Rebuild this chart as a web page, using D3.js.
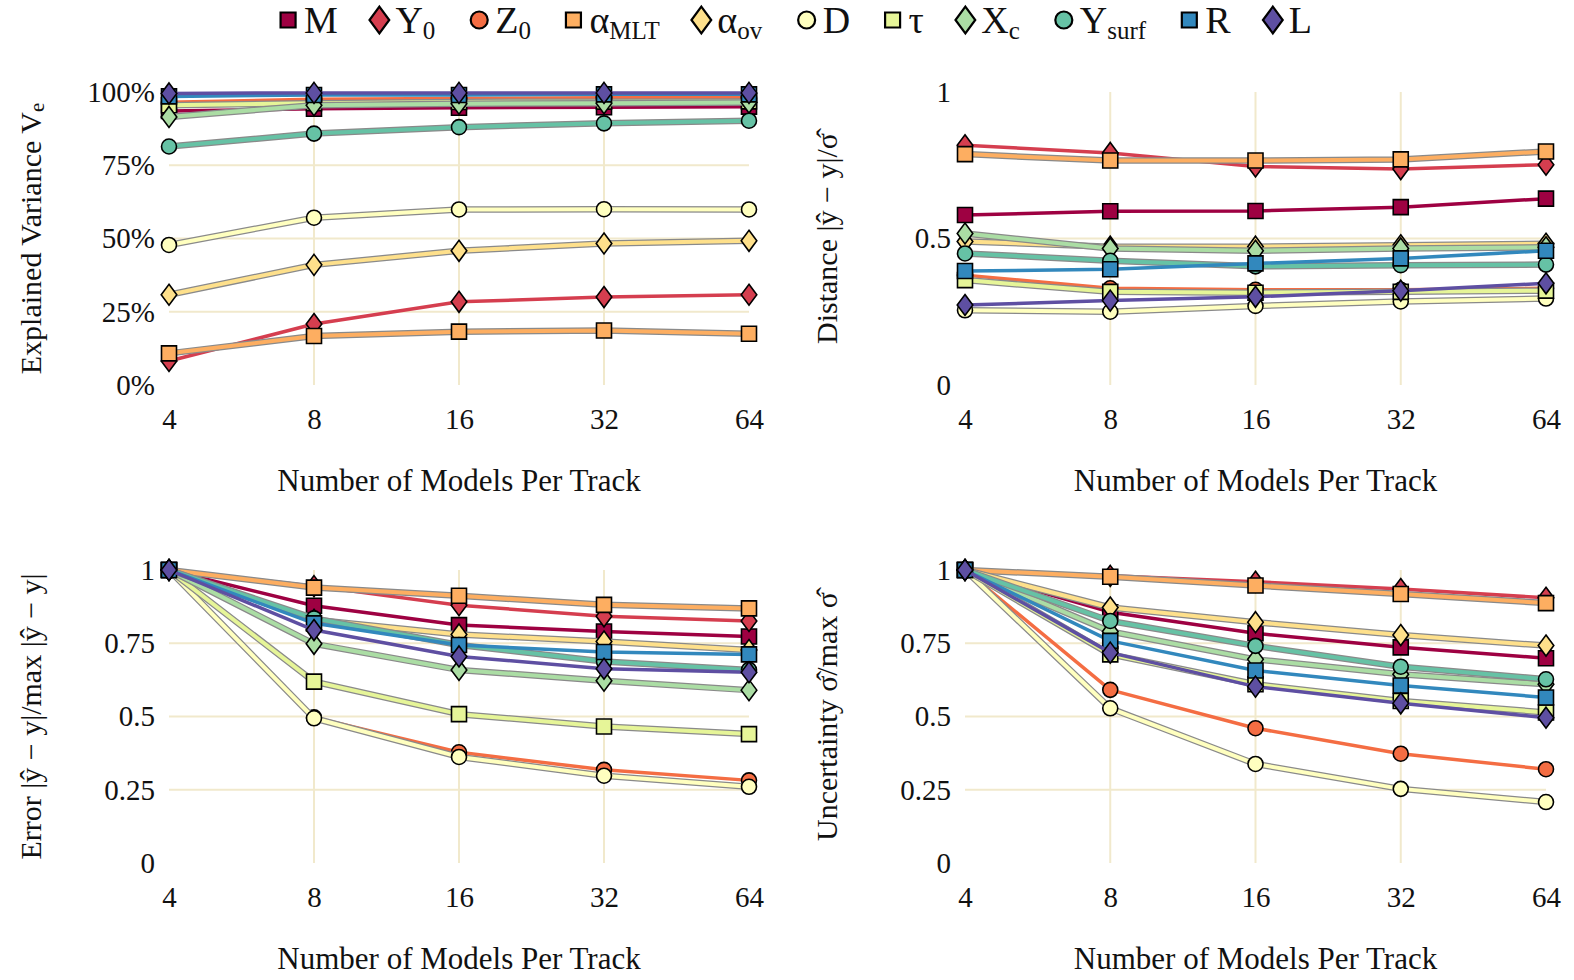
<!DOCTYPE html>
<html><head><meta charset="utf-8">
<script src="https://cdn.jsdelivr.net/npm/d3@7"></script>
<style>
body{margin:0;background:#fff}
text{font-family:"Liberation Serif","DejaVu Serif",serif;fill:#111}
</style>
</head><body><svg id="c" width="1574" height="980"></svg>
<script>
// ---------- data ----------
const modelsPerTrack = [4, 8, 16, 32, 64];
const seriesKeys = ["M","Y0","Z0","aMLT","aov","D","tau","Xc","Ysurf","R","L"];
const seriesColors = ["#9e0142","#d53e4f","#f46d43","#fdae61","#fee08b","#ffffbf","#e6f598","#abdda4","#66c2a5","#3288bd","#5e4fa2"];
const seriesMarkers = ["square","diamond","circle","square","diamond","circle","square","diamond","circle","square","diamond"];
const seriesOutlined = [false,false,false,true,true,true,true,true,true,false,false];
const legendMain = ["M","Y","Z","α","α","D","τ","X","Y","R","L"];
const legendSub  = ["","0","0","MLT","ov","","","c","surf","",""];

// order: M, Y0, Z0, aMLT, aov, D, tau, Xc, Ysurf, R, L
const explainedVariance = [
  [0.935, 0.943, 0.946, 0.948, 0.950],
  [0.082, 0.208, 0.284, 0.300, 0.308],
  [0.965, 0.975, 0.978, 0.980, 0.980],
  [0.108, 0.167, 0.182, 0.186, 0.175],
  [0.308, 0.410, 0.458, 0.483, 0.492],
  [0.478, 0.571, 0.599, 0.600, 0.599],
  [0.955, 0.962, 0.966, 0.967, 0.968],
  [0.915, 0.955, 0.960, 0.962, 0.964],
  [0.814, 0.858, 0.880, 0.893, 0.902],
  [0.985, 0.990, 0.990, 0.992, 0.992],
  [0.995, 0.997, 0.997, 0.997, 0.997]
];
const distance = [
  [0.580, 0.593, 0.594, 0.607, 0.636],
  [0.818, 0.792, 0.746, 0.737, 0.752],
  [0.375, 0.330, 0.325, 0.325, 0.330],
  [0.788, 0.766, 0.766, 0.770, 0.797],
  [0.490, 0.472, 0.472, 0.477, 0.482],
  [0.255, 0.250, 0.270, 0.285, 0.295],
  [0.358, 0.318, 0.315, 0.318, 0.322],
  [0.517, 0.466, 0.458, 0.466, 0.470],
  [0.449, 0.424, 0.405, 0.409, 0.411],
  [0.389, 0.395, 0.415, 0.432, 0.458],
  [0.273, 0.288, 0.301, 0.322, 0.347]
];
const errorRatio = [
  [1, 0.878, 0.812, 0.790, 0.773],
  [1, 0.945, 0.880, 0.842, 0.826],
  [1, 0.497, 0.378, 0.318, 0.282],
  [1, 0.940, 0.912, 0.881, 0.869],
  [1, 0.830, 0.780, 0.756, 0.727],
  [1, 0.494, 0.362, 0.298, 0.260],
  [1, 0.619, 0.508, 0.466, 0.440],
  [1, 0.748, 0.659, 0.622, 0.590],
  [1, 0.835, 0.744, 0.688, 0.659],
  [1, 0.818, 0.744, 0.720, 0.712],
  [1, 0.795, 0.705, 0.663, 0.651]
];
const uncertaintyRatio = [
  [1, 0.856, 0.784, 0.736, 0.699],
  [1, 0.980, 0.960, 0.935, 0.905],
  [1, 0.591, 0.460, 0.373, 0.320],
  [1, 0.977, 0.947, 0.918, 0.887],
  [1, 0.872, 0.822, 0.778, 0.742],
  [1, 0.528, 0.338, 0.253, 0.208],
  [1, 0.712, 0.610, 0.553, 0.514],
  [1, 0.790, 0.695, 0.644, 0.610],
  [1, 0.826, 0.741, 0.670, 0.627],
  [1, 0.758, 0.657, 0.606, 0.565],
  [1, 0.718, 0.602, 0.545, 0.496]
];
const percentTicks = [0, 0.25, 0.5, 0.75, 1];
const halfTicks = [0, 0.5, 1];
const quarterTicks = [0, 0.25, 0.5, 0.75, 1];
const xTitle = "Number of Models Per Track";

// ---------- layout ----------
const svg = d3.select("#c");
const gridColor = "#f1e9cc";
const fmtQuarter = v => v === 0 ? "0" : v === 1 ? "1" : String(v);
const panels = [
  {data: explainedVariance, x0:169, x1:749, yTop:92, yBot:385, ticks:percentTicks, fmt:d3.format(".0%"),
   title:[["Explained Variance V",""],["e","sub"]], tx:30},
  {data: distance, x0:965, x1:1546, yTop:92, yBot:385, ticks:halfTicks, fmt:fmtQuarter,
   title:[["Distance |ŷ − y|/σ̂",""]], tx:826},
  {data: errorRatio, x0:169, x1:749, yTop:570, yBot:863, ticks:quarterTicks, fmt:fmtQuarter,
   title:[["Error |ŷ − y|/max |ŷ − y|",""]], tx:30},
  {data: uncertaintyRatio, x0:965, x1:1546, yTop:570, yBot:863, ticks:quarterTicks, fmt:fmtQuarter,
   title:[["Uncertainty σ̂/max σ̂",""]], tx:826}
];

function markerPath(type, s) {
  const p = d3.path();
  if (type === "square") { const h = s/2; p.rect(-h,-h,s,s); }
  else if (type === "circle") { p.arc(0,0,s/2,0,2*Math.PI); }
  else { const w = s*0.52, h = s*0.7; p.moveTo(0,-h); p.lineTo(w,0); p.lineTo(0,h); p.lineTo(-w,0); p.closePath(); }
  return p.toString();
}

panels.forEach(P => {
  const x = d3.scaleLog().base(2).domain([4,64]).range([P.x0, P.x1]);
  const y = d3.scaleLinear().domain([0,1]).range([P.yBot, P.yTop]);
  const g = svg.append("g");

  // grid (interior only)
  g.selectAll(".vg").data(modelsPerTrack.slice(1,-1)).join("line")
    .attr("x1", d => x(d)).attr("x2", d => x(d)).attr("y1", P.yTop).attr("y2", P.yBot)
    .attr("stroke", gridColor).attr("stroke-width", 2);
  g.selectAll(".hg").data(P.ticks.slice(1,-1)).join("line")
    .attr("x1", P.x0).attr("x2", P.x1).attr("y1", d => y(d)).attr("y2", d => y(d))
    .attr("stroke", gridColor).attr("stroke-width", 2);

  // y axis labels via d3 axis
  const ya = d3.axisLeft(y).tickValues(P.ticks).tickFormat(P.fmt).tickSize(0).tickPadding(14);
  const yg = g.append("g").attr("transform", `translate(${P.x0},0)`).call(ya);
  yg.select(".domain").remove();
  yg.attr("font-family", null);
  yg.selectAll("text").attr("font-size", 29).attr("fill", "#111");

  const xa = d3.axisBottom(x).tickValues(modelsPerTrack).tickFormat(d3.format("d")).tickSize(0).tickPadding(23);
  const xg = g.append("g").attr("transform", `translate(0,${P.yBot})`).call(xa);
  xg.select(".domain").remove();
  xg.attr("font-family", null);
  xg.selectAll("text").attr("font-size", 29).attr("fill", "#111");

  // x title
  g.append("text").attr("x", (P.x0+P.x1)/2).attr("y", P.yBot + 95)
    .attr("text-anchor", "middle").attr("dominant-baseline", "central")
    .attr("font-size", 31).text(xTitle);

  // y title
  const yt = g.append("text").attr("transform", `translate(${P.tx},${(P.yTop+P.yBot)/2}) rotate(-90)`)
    .attr("text-anchor", "middle").attr("dominant-baseline", "central").attr("font-size", 30);
  P.title.forEach(([t, kind]) => {
    const ts = yt.append("tspan").text(t);
    if (kind === "sub") ts.attr("font-size", 21).attr("dy", "0.35em");
  });

  // series
  const line = d3.line().x((d,i) => x(modelsPerTrack[i])).y(d => y(d));
  P.data.forEach((vals, si) => {
    const sg = g.append("g");
    if (seriesOutlined[si]) {
      sg.append("path").attr("d", line(vals)).attr("fill", "none")
        .attr("stroke", "#8a8a8a").attr("stroke-width", 6.5).attr("stroke-linejoin", "round");
    }
    sg.append("path").attr("d", line(vals)).attr("fill", "none")
      .attr("stroke", seriesColors[si]).attr("stroke-width", seriesOutlined[si] ? 4 : 3.5)
      .attr("stroke-linejoin", "round");
    sg.selectAll("path.m").data(vals).join("path").attr("class", "m")
      .attr("transform", (d,i) => `translate(${x(modelsPerTrack[i])},${y(d)})`)
      .attr("d", markerPath(seriesMarkers[si], 15))
      .attr("fill", seriesColors[si]).attr("stroke", "#000").attr("stroke-width", 1.6);
  });
});

// ---------- legend ----------
const lg = svg.append("g");
const items = [];
const legendMarkerSize = {square: 15, circle: 17, diamond: 19};
seriesKeys.forEach((k, i) => {
  const it = lg.append("g");
  const ms = legendMarkerSize[seriesMarkers[i]];
  it.append("path").attr("d", markerPath(seriesMarkers[i], ms))
    .attr("transform", `translate(${10},0)`)
    .attr("fill", seriesColors[i]).attr("stroke", "#000").attr("stroke-width", 2.2);
  const t = it.append("text").attr("x", 26).attr("y", 0).attr("dominant-baseline", "central")
    .attr("font-size", 38);
  t.append("tspan").text(legendMain[i]);
  if (legendSub[i]) t.append("tspan").text(legendSub[i]).attr("font-size", 25).attr("dy", "0.4em");
  const w = it.node().getBBox().width;
  items.push({it, w});
});
const gap = 34;
const total = d3.sum(items, d => d.w) + gap * (items.length - 1);
let px = 795 - total/2;
items.forEach(d => { d.it.attr("transform", `translate(${px},20)`); px += d.w + gap; });
</script>
</body></html>
